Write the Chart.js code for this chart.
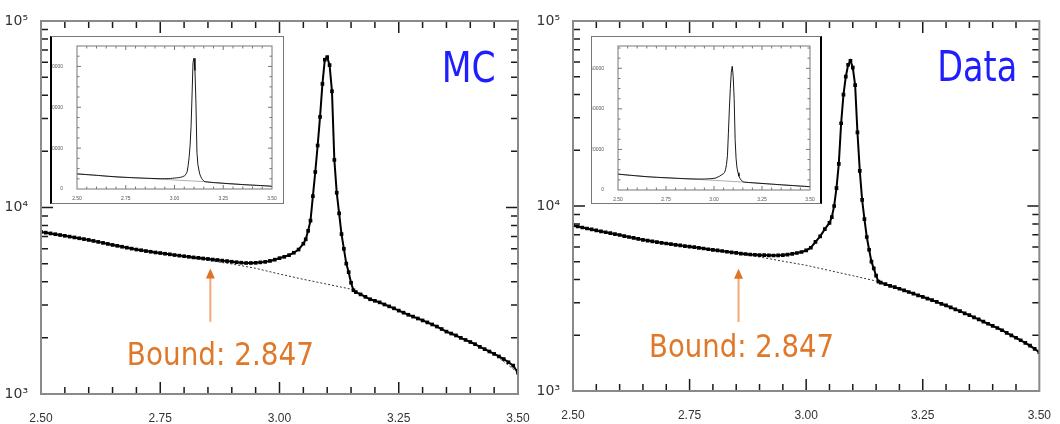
<!DOCTYPE html>
<html><head><meta charset="utf-8">
<script src="https://cdn.jsdelivr.net/npm/chart.js@4.4.1/dist/chart.umd.min.js"></script>
<style>
html,body{margin:0;padding:0;background:#fff;}
body{width:1060px;height:424px;position:relative;overflow:hidden;}
canvas{position:absolute;}
.inset{position:absolute;background:#fff;box-sizing:border-box;}
</style></head><body>
<canvas id="mainL" width="545" height="424" style="left:0;top:0"></canvas>
<canvas id="mainR" width="530" height="424" style="left:530px;top:0"></canvas>
<div class="inset" style="left:50px;top:36px;width:234px;height:168px;border:1px solid #777;border-left:2px solid #000;"><canvas id="insetL" width="231" height="166" style="left:0;top:0"></canvas></div>
<div class="inset" style="left:591px;top:36px;width:231px;height:168px;border:1px solid #777;border-right:2px solid #000;"><canvas id="insetR" width="228" height="166" style="left:0;top:0"></canvas></div>
<script>
// ---- data ----
const mass = [
 2.50,2.51,2.52,2.53,2.54,2.55,2.56,2.57,2.58,2.59,
 2.60,2.61,2.62,2.63,2.64,2.65,2.66,2.67,2.68,2.69,
 2.70,2.71,2.72,2.73,2.74,2.75,2.76,2.77,2.78,2.79,
 2.80,2.81,2.82,2.83,2.84,2.85,2.86,2.87,2.88,2.89,
 2.90,2.91,2.92,2.93,2.94,2.95,2.96,2.97,2.98,2.99,
 3.00,3.01,3.02,3.03,3.04,3.05,
 3.055,3.06,3.065,3.07,3.075,3.08,3.085,3.09,3.095,3.10,3.105,3.11,3.115,3.12,3.125,3.13,3.135,3.14,3.145,3.15,3.155,
 3.16,3.17,3.18,3.19,3.20,3.21,3.22,3.23,3.24,3.25,3.26,3.27,3.28,3.29,3.30,3.31,3.32,3.33,3.34,3.35,
 3.36,3.37,3.38,3.39,3.40,3.41,3.42,3.43,3.44,3.45,3.46,3.47,3.48,3.49,3.50
];
const mcCounts = [
 7400,7330,7260,7190,7120,7050,6980,6910,6840,6770,
 6700,6620,6540,6460,6380,6300,6230,6160,6090,6020,
 5950,5900,5840,5790,5740,5700,5650,5610,5560,5520,
 5480,5440,5400,5370,5330,5300,5260,5230,5190,5160,
 5120,5090,5060,5040,5040,5050,5080,5110,5170,5250,
 5350,5440,5550,5720,5950,6400,
 6750,7500,8500,11500,15500,21500,30600,46000,62000,64000,58000,42000,18000,12000,9300,7200,6000,5000,4500,3950,3600,
 3520,3420,3320,3220,3160,3100,3020,2950,2880,2800,2730,2660,2600,2540,2480,2420,2360,2300,2230,2160,
 2110,2060,2000,1950,1900,1850,1790,1740,1690,1640,1590,1540,1480,1420,1300
];
const dataCounts = [
 7850,7750,7650,7560,7470,7380,7290,7210,7130,7050,
 6970,6880,6800,6720,6640,6560,6500,6440,6380,6320,
 6270,6220,6170,6120,6070,6030,5990,5940,5890,5840,
 5790,5750,5710,5660,5620,5580,5530,5500,5470,5450,
 5430,5420,5410,5400,5410,5430,5460,5510,5570,5640,
 5750,5950,6400,6850,7500,8100,
 8700,10000,12500,16900,28000,40000,50000,58000,61000,56000,45000,25000,15500,10800,8500,6800,5800,5000,4600,4200,3900,
 3850,3780,3700,3640,3570,3500,3430,3360,3290,3230,3160,3100,3030,2960,2900,2830,2760,2700,2630,2570,
 2500,2440,2370,2310,2250,2190,2130,2060,2000,1940,1880,1820,1760,1690,1620
];
const bkgMass = [2.50,2.55,2.60,2.65,2.70,2.75,2.80,2.85,2.90,2.95,3.00,3.05,3.10,3.15,3.20,3.25,3.30,3.35,3.40,3.45,3.50];
const mcBkg   = [7400,7050,6700,6300,5950,5700,5450,5200,4980,4720,4400,4120,3880,3650,3160,2800,2480,2160,1900,1640,1300];
const dataBkg = [7850,7380,6970,6560,6270,6030,5790,5560,5300,5030,4780,4480,4200,3930,3570,3230,2900,2570,2250,1940,1620];

const xTickValues = [2.50, 2.75, 3.00, 3.25, 3.50];
const xTickLabels = ['2.50', '2.75', '3.00', '3.25', '3.50'];
const yTickValues = [1000, 10000, 100000];
const yTickLabels = ['10\u00B3', '10\u2074', '10\u2075'];
const insetYTickValues = [0, 20000, 40000, 60000];
const insetYTickLabels = ['0', '20000', '40000', '60000'];

const boundText = 'Bound: 2.847';
const boundArrowX = 2.855;

// ---- plugins ----
const frameTicks = {
  id: 'frameTicks',
  afterDatasetsDraw(chart, args, o) {
    const {ctx, chartArea: a, scales: {x, y}} = chart;
    ctx.save();
    ctx.strokeStyle = o.tickColor; ctx.lineWidth = o.tickWidth;
    ctx.beginPath();
    const nx = Math.round((x.max - x.min) / o.xMinor);
    for (let i = 1; i < nx; i++) {
      const v = x.min + i * o.xMinor;
      const r = v / o.xMajor;
      const len = Math.abs(r - Math.round(r)) < 1e-6 ? o.majorLen : o.minorLen;
      const p = x.getPixelForValue(v);
      ctx.moveTo(p, a.bottom); ctx.lineTo(p, a.bottom - len);
      ctx.moveTo(p, a.top); ctx.lineTo(p, a.top + len);
    }
    const yv = [];
    if (o.yLog) {
      const d0 = Math.round(Math.log10(y.min)), d1 = Math.round(Math.log10(y.max));
      for (let d = d0; d < d1; d++)
        for (let k = 1; k <= 9; k++) yv.push([k * Math.pow(10, d), k === 1]);
    } else {
      const ny = Math.floor((y.max - y.min) / o.yMinor + 1e-9);
      for (let i = 0; i <= ny; i++) {
        const v = y.min + i * o.yMinor;
        yv.push([v, Math.abs(v % o.yMajor) < 1e-6]);
      }
    }
    for (const [v, major] of yv) {
      if (v <= y.min || v >= y.max) continue;
      const len = major ? o.majorLen : o.minorLen;
      const p = y.getPixelForValue(v);
      ctx.moveTo(a.left, p); ctx.lineTo(a.left + len, p);
      ctx.moveTo(a.right, p); ctx.lineTo(a.right - len, p);
    }
    ctx.stroke();
    ctx.strokeStyle = o.frameColor; ctx.lineWidth = o.frameWidth;
    ctx.strokeRect(a.left, a.top, a.right - a.left, a.bottom - a.top);
    ctx.restore();
  }
};

const notes = {
  id: 'notes',
  afterDraw(chart, args, o) {
    if (!o || !o.label) return;
    const {ctx, scales: {x, y}} = chart;
    ctx.save();
    ctx.textAlign = 'left'; ctx.textBaseline = 'alphabetic';
    ctx.fillStyle = '#1e1eff';
    ctx.font = '42px "DejaVu Sans"';
    ctx.fillText(o.label, x.getPixelForValue(o.labelAt[0]), y.getPixelForValue(o.labelAt[1]), o.labelMaxW);
    ctx.fillStyle = '#e0782a';
    ctx.font = '32px "DejaVu Sans"';
    ctx.fillText(boundText, x.getPixelForValue(o.boundAt[0]), y.getPixelForValue(o.boundAt[1]), o.boundMaxW);
    const ax = x.getPixelForValue(boundArrowX);
    const yTip = y.getPixelForValue(o.arrowTip), yBase = y.getPixelForValue(o.arrowBase);
    ctx.strokeStyle = '#f2a878'; ctx.lineWidth = 2;
    ctx.beginPath(); ctx.moveTo(ax, yBase); ctx.lineTo(ax, yTip + 8); ctx.stroke();
    ctx.fillStyle = '#e07424';
    ctx.beginPath(); ctx.moveTo(ax, yTip); ctx.lineTo(ax - 4.5, yTip + 10); ctx.lineTo(ax + 4.5, yTip + 10); ctx.closePath(); ctx.fill();
    ctx.restore();
  }
};

const toXY = (xs, ys) => xs.map((v, i) => ({x: v, y: ys[i]}));

function mainChart(id, counts, bkg, o) {
  return new Chart(document.getElementById(id), {
    type: 'line',
    data: {datasets: [
      {data: toXY(mass, counts), borderColor: '#000', backgroundColor: '#000', borderWidth: 2,
       pointStyle: 'rect', pointRadius: 2.6, pointBorderWidth: 0, tension: 0},
      {data: toXY(bkgMass, bkg), borderColor: '#333', borderWidth: 1, borderDash: [2, 2], pointRadius: 0, tension: 0}
    ]},
    options: {
      responsive: false, animation: false, devicePixelRatio: 1,
      layout: {padding: {left: 0, top: o.top, right: o.right, bottom: 0}},
      plugins: {
        legend: {display: false}, tooltip: {enabled: false},
        frameTicks: {tickColor: '#1a1a1a', tickWidth: 1.5, frameColor: '#8a8a8a', frameWidth: 2,
                     xMinor: 0.05, xMajor: 0.25, yLog: true, majorLen: 12, minorLen: 7},
        notes: o.notes
      },
      scales: {
        x: {type: 'linear', min: 2.5, max: 3.5, grid: {display: false}, border: {display: false},
            afterBuildTicks: s => { s.ticks = xTickValues.map(v => ({value: v})); },
            afterFit: s => { s.height = o.xh; },
            ticks: {autoSkip: false, maxRotation: 0, padding: 9, color: '#333',
                    font: {family: '"Liberation Sans", "DejaVu Sans"', size: 12},
                    callback: (v, i) => xTickLabels[i]}},
        y: {type: 'logarithmic', min: 1000, max: 100000, grid: {display: false}, border: {display: false},
            afterBuildTicks: s => { s.ticks = yTickValues.map(v => ({value: v})); },
            afterFit: s => { s.width = o.yw; },
            ticks: {autoSkip: false, padding: 5, color: '#333',
                    font: {family: '"DejaVu Sans"', size: 14},
                    callback: (v, i) => yTickLabels[i]}}
      }
    },
    plugins: [frameTicks, notes]
  });
}

function insetChart(id, counts, bkg, o) {
  return new Chart(document.getElementById(id), {
    type: 'line',
    data: {datasets: [
      {data: toXY(mass, counts), borderColor: '#000', borderWidth: 0.9, pointRadius: 0, tension: 0},
      {data: toXY(bkgMass, bkg), borderColor: '#999', borderWidth: 0.8, pointRadius: 0, tension: 0}
    ]},
    options: {
      responsive: false, animation: false, devicePixelRatio: 1,
      layout: {padding: {left: 0, top: o.top, right: o.right, bottom: 0}},
      plugins: {
        legend: {display: false}, tooltip: {enabled: false},
        frameTicks: {tickColor: '#555', tickWidth: 0.8, frameColor: '#777', frameWidth: 1,
                     xMinor: 0.05, xMajor: 0.25, yLog: false, yMinor: 5000, yMajor: 20000, majorLen: 4, minorLen: 2.5}
      },
      scales: {
        x: {type: 'linear', min: 2.5, max: 3.5, grid: {display: false}, border: {display: false},
            afterBuildTicks: s => { s.ticks = xTickValues.map(v => ({value: v})); },
            afterFit: s => { s.height = o.xh; },
            ticks: {autoSkip: false, maxRotation: 0, padding: -1, color: '#555',
                    font: {family: '"Liberation Sans", "DejaVu Sans"', size: 5},
                    callback: (v, i) => xTickLabels[i]}},
        y: {type: 'linear', min: 0, max: o.ymax, grid: {display: false}, border: {display: false},
            afterBuildTicks: s => { s.ticks = insetYTickValues.map(v => ({value: v})); },
            afterFit: s => { s.width = o.yw; },
            ticks: {autoSkip: false, padding: 6, color: '#555',
                    font: {family: '"Liberation Sans", "DejaVu Sans"', size: 5},
                    callback: (v, i) => insetYTickLabels[i]}}
      }
    },
    plugins: [frameTicks]
  });
}

mainChart('mainL', mcCounts, mcBkg, {top: 21, right: 27, xh: 30, yw: 41,
  notes: {label: 'MC', labelAt: [3.340, 47100], labelMaxW: 54,
          boundAt: [2.680, 1430], boundMaxW: 187, arrowTip: 4710, arrowBase: 2440}});
mainChart('mainR', dataCounts, dataBkg, {top: 21, right: 13, xh: 33, yw: 43,
  notes: {label: 'Data', labelAt: [3.281, 47500], labelMaxW: 80,
          boundAt: [2.663, 1527], boundMaxW: 185, arrowTip: 4580, arrowBase: 2360}});
insetChart('insetL', mcCounts, mcBkg, {top: 1, right: 11, xh: 14, yw: 25, ymax: 70000});
insetChart('insetR', dataCounts, dataBkg, {top: 1, right: 10, xh: 13, yw: 26, ymax: 71000});
</script>
</body></html>
